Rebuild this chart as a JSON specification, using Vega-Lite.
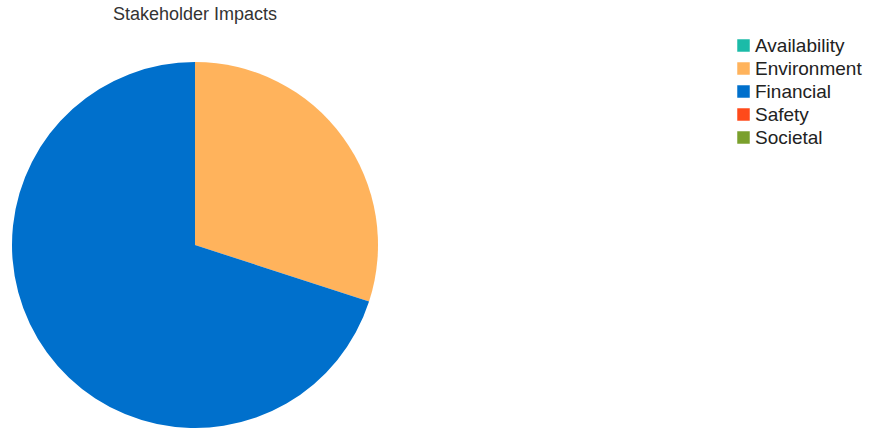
{
  "$schema": "https://vega.github.io/schema/vega-lite/v6.json",
  "autosize": {"type": "none"},
  "width": 390,
  "height": 366,
  "padding": {"left": 0, "top": 62, "right": 483, "bottom": 0},
  "background": "white",
  "title": {
    "text": "Stakeholder Impacts",
    "font": "Liberation Sans",
    "fontSize": 18,
    "fontWeight": "normal",
    "color": "#333333",
    "anchor": "middle",
    "offset": 12
  },
  "data": {
    "values": [
      {"category": "Availability", "value": 0},
      {"category": "Environment", "value": 30},
      {"category": "Financial", "value": 70},
      {"category": "Safety", "value": 0},
      {"category": "Societal", "value": 0}
    ]
  },
  "mark": {"type": "arc", "outerRadius": 183},
  "encoding": {
    "theta": {"field": "value", "type": "quantitative", "stack": true},
    "color": {
      "field": "category",
      "type": "nominal",
      "scale": {
        "domain": ["Availability", "Environment", "Financial", "Safety", "Societal"],
        "range": ["#1BBBA8", "#FFB35C", "#0070CC", "#FF4A1A", "#7AA02C"]
      },
      "legend": {
        "title": null,
        "orient": "none",
        "legendX": 734,
        "legendY": -26,
        "symbolType": "square",
        "symbolSize": 156,
        "symbolStrokeWidth": 0,
        "labelFont": "Liberation Sans",
        "labelFontSize": 19,
        "labelColor": "#222222",
        "labelOffset": 2,
        "rowPadding": 3
      }
    }
  },
  "config": {"view": {"stroke": null}}
}
